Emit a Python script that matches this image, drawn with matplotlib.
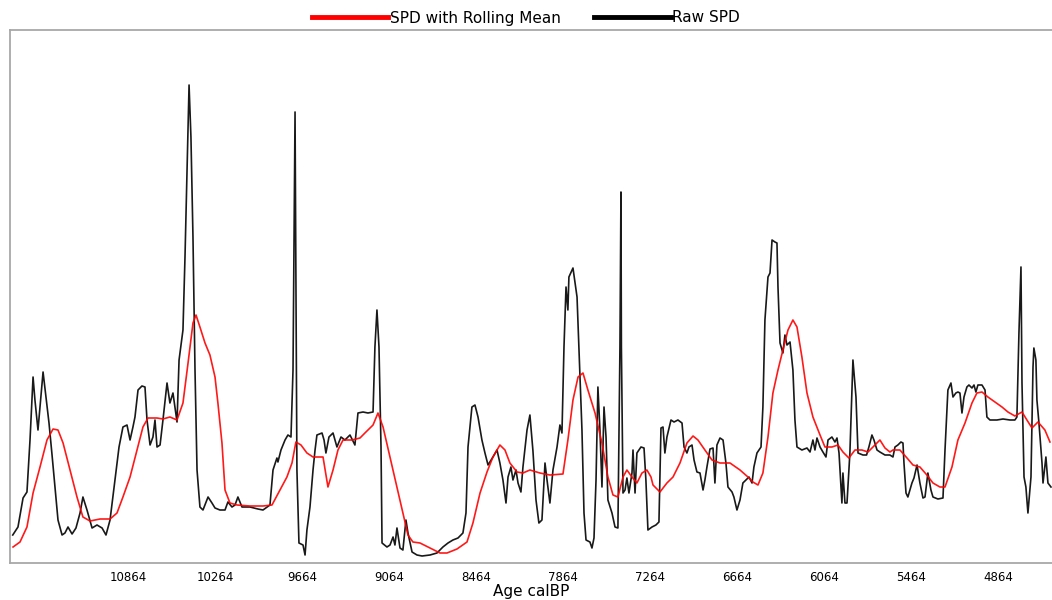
import numpy as np
import matplotlib
matplotlib.use("Agg")
import matplotlib.pyplot as plt

plt.rcParams['font.family'] = ['DejaVu Sans']

# raw SPD (arbitrary units, x 1e-5)
raw_age = [11659, 11623, 11588, 11561, 11540, 11519, 11506, 11485, 11450, 11423,
           11409, 11388, 11368, 11347, 11319, 11299, 11278, 11250, 11223, 11195,
           11175, 11147, 11112, 11078, 11043, 11016, 10988, 10954, 10926, 10899,
           10871, 10850, 10830, 10816, 10795, 10768, 10747, 10733, 10712, 10692,
           10678, 10664, 10643, 10623, 10595, 10575, 10554, 10526, 10512, 10485,
           10471, 10457, 10443, 10430, 10416, 10402, 10388, 10368, 10347, 10312,
           10285, 10264, 10230, 10195, 10175, 10147, 10126, 10106, 10078, 10023,
           9968, 9933, 9885, 9864, 9837, 9830, 9809, 9781, 9761, 9740,
           9726, 9719, 9712, 9706, 9699, 9685, 9657, 9643, 9630, 9609,
           9588, 9574, 9561, 9526, 9512, 9499, 9478, 9450, 9423, 9395,
           9368, 9333, 9299, 9278, 9243, 9209, 9174, 9161, 9147, 9133,
           9119, 9112, 9078, 9057, 9036, 9023, 9009, 8988, 8968, 8947,
           8933, 8905, 8871, 8836, 8781, 8733, 8692, 8657, 8623, 8588,
           8554, 8533, 8519, 8492, 8471, 8450, 8423, 8402, 8381, 8347,
           8319, 8299, 8278, 8257, 8243, 8223, 8209, 8188, 8174, 8154,
           8140, 8112, 8092, 8071, 8050, 8030, 8009, 7988, 7974, 7954,
           7933, 7905, 7885, 7871, 7857, 7843, 7830, 7823, 7795, 7767,
           7754, 7733, 7719, 7705, 7678, 7664, 7650, 7636, 7623, 7609,
           7595, 7581, 7567, 7554, 7526, 7505, 7485, 7471, 7464, 7461,
           7450, 7436, 7423, 7409, 7388, 7381, 7367, 7354, 7326, 7305,
           7292, 7278, 7250, 7223, 7202, 7188, 7174, 7161, 7147, 7119,
           7098, 7071, 7043, 7029, 7009, 6995, 6974, 6960, 6940, 6919,
           6898, 6885, 6871, 6850, 6829, 6816, 6802, 6781, 6760, 6740,
           6726, 6698, 6685, 6664, 6643, 6623, 6602, 6581, 6560, 6547,
           6526, 6498, 6485, 6471, 6450, 6436, 6422, 6402, 6388, 6381,
           6367, 6347, 6333, 6319, 6298, 6278, 6264, 6250, 6216, 6181,
           6160, 6140, 6126, 6112, 6091, 6071, 6050, 6036, 6009, 5988,
           5974, 5960, 5940, 5933, 5919, 5905, 5885, 5864, 5843, 5829,
           5795, 5770, 5754, 5733, 5719, 5698, 5678, 5643, 5609, 5588,
           5574, 5554, 5533, 5519, 5512, 5498, 5485, 5457, 5443, 5422,
           5402, 5381, 5367, 5347, 5326, 5312, 5278, 5243, 5229, 5209,
           5188, 5174, 5154, 5140, 5126, 5112, 5098, 5078, 5064, 5043,
           5029, 5016, 5002, 4974, 4953, 4940, 4919, 4871, 4829, 4781,
           4747, 4733, 4719, 4705, 4698, 4684, 4671, 4657, 4636, 4622,
           4616, 4602, 4595, 4581, 4560, 4553, 4533, 4519, 4498]
raw_spd = [28, 36, 65, 71, 123, 186, 163, 133, 191, 158,
           140, 108, 76, 43, 28, 30, 36, 29, 35, 50,
           66, 53, 35, 38, 35, 28, 43, 83, 116, 136,
           138, 123, 136, 146, 173, 177, 176, 143, 118, 126,
           143, 116, 118, 143, 180, 160, 170, 141, 203, 233,
           306, 393, 478, 426, 326, 193, 93, 56, 53, 66,
           60, 55, 53, 53, 61, 56, 58, 66, 56, 56,
           54, 53, 58, 93, 105, 101, 113, 123, 128, 126,
           193, 326, 451, 293, 93, 20, 18, 8, 33, 56,
           93, 113, 128, 130, 123, 110, 126, 130, 116, 126,
           123, 128, 118, 150, 151, 150, 151, 216, 253, 216,
           116, 20, 16, 18, 26, 18, 35, 15, 13, 43,
           30, 11, 8, 7, 8, 10, 16, 20, 23, 25,
           30, 50, 116, 156, 158, 146, 123, 110, 98, 106,
           113, 100, 83, 60, 86, 96, 83, 93, 80, 71,
           96, 133, 148, 112, 63, 40, 43, 100, 83, 60,
           93, 116, 138, 130, 216, 276, 253, 286, 295, 266,
           216, 133, 50, 23, 21, 15, 25, 83, 176, 133,
           76, 156, 126, 63, 50, 36, 35, 216, 371, 216,
           70, 73, 85, 70, 90, 113, 70, 110, 116, 115,
           83, 33, 36, 38, 41, 135, 136, 110, 126, 143,
           141, 143, 140, 116, 110, 116, 118, 103, 91, 90,
           73, 83, 96, 114, 115, 80, 118, 125, 123, 100,
           76, 71, 66, 53, 63, 80, 83, 86, 80, 96,
           110, 116, 156, 243, 286, 290, 323, 321, 320, 276,
           220, 210, 228, 218, 221, 193, 143, 116, 113, 115,
           111, 123, 113, 125, 116, 111, 106, 123, 126, 121,
           125, 110, 60, 90, 60, 60, 110, 203, 166, 110,
           108, 108, 116, 128, 123, 113, 111, 108, 108, 106,
           116, 118, 121, 120, 100, 70, 66, 80, 85, 98,
           80, 65, 66, 90, 73, 66, 64, 65, 113, 173,
           180, 166, 170, 171, 170, 150, 166, 176, 178, 175,
           178, 171, 178, 178, 173, 146, 143, 143, 144, 143,
           143, 146, 230, 296, 180, 86, 76, 50, 86, 196,
           215, 203, 163, 140, 100, 80, 106, 80, 76]

# rolling mean of the SPD
mean_age = [11657, 11609, 11561, 11519, 11471, 11423, 11381, 11347, 11312, 11264,
            11216, 11175, 11126, 11057, 10988, 10940, 10899, 10850, 10802, 10761,
            10726, 10664, 10623, 10575, 10526, 10485, 10450, 10416, 10395, 10368,
            10333, 10299, 10264, 10244, 10216, 10195, 10161, 10112, 10023, 9933,
            9871, 9816, 9768, 9733, 9706, 9671, 9630, 9588, 9519, 9485,
            9450, 9416, 9381, 9319, 9264, 9230, 9174, 9140, 9105, 9057,
            9009, 8968, 8933, 8899, 8850, 8781, 8712, 8664, 8595, 8526,
            8485, 8436, 8388, 8347, 8299, 8264, 8230, 8181, 8140, 8092,
            8023, 7954, 7864, 7830, 7795, 7760, 7726, 7692, 7643, 7595,
            7554, 7519, 7485, 7450, 7423, 7388, 7354, 7319, 7285, 7257,
            7243, 7195, 7147, 7105, 7057, 7009, 6967, 6933, 6885, 6836,
            6781, 6712, 6643, 6588, 6554, 6519, 6485, 6450, 6416, 6381,
            6347, 6312, 6278, 6250, 6216, 6181, 6140, 6091, 6057, 6009,
            5967, 5933, 5892, 5850, 5802, 5760, 5712, 5678, 5643, 5609,
            5588, 5540, 5491, 5450, 5402, 5354, 5312, 5264, 5229, 5181,
            5140, 5091, 5043, 5009, 4974, 4933, 4884, 4836, 4795, 4747,
            4698, 4664, 4629, 4588, 4540, 4505]
mean_spd = [16, 21, 36, 70, 96, 123, 134, 133, 120, 93,
            66, 46, 42, 44, 44, 50, 66, 86, 113, 136,
            145, 145, 144, 146, 143, 160, 200, 240, 248, 236,
            220, 208, 186, 160, 120, 73, 60, 58, 57, 57,
            58, 73, 86, 100, 121, 118, 110, 106, 106, 76,
            93, 113, 123, 123, 125, 130, 138, 150, 136, 106,
            76, 50, 28, 21, 20, 15, 10, 10, 14, 21,
            40, 70, 91, 106, 118, 113, 100, 91, 90, 93,
            90, 88, 89, 123, 163, 186, 190, 173, 150, 120,
            86, 68, 66, 86, 93, 86, 80, 90, 93, 86,
            78, 71, 80, 86, 100, 120, 127, 123, 113, 103,
            100, 100, 93, 86, 81, 78, 90, 126, 170, 193,
            213, 233, 243, 236, 206, 170, 146, 128, 116, 116,
            118, 111, 105, 113, 113, 111, 118, 123, 115, 111,
            113, 113, 105, 98, 96, 88, 80, 76, 76, 96,
            123, 140, 160, 170, 171, 166, 161, 156, 151, 147,
            151, 143, 135, 141, 133, 121]

tick_ages = [10864, 10264, 9664, 9064, 8464, 7864, 7264, 6664, 6064, 5464, 4864]

fig = plt.figure(figsize=(10.52, 6.0), dpi=100)
ax = fig.add_axes([10 / 1052, 37 / 600, 1 - 10 / 1052, 533 / 600])

raw_line, = ax.plot(raw_age, raw_spd, color='black', lw=1.2, alpha=0.9)
mean_line, = ax.plot(mean_age, mean_spd, color='red', lw=1.2, alpha=0.9)

ax.set_xlim(11678, 4491)
ax.set_ylim(0, 533)
ax.set_xticks(tick_ages)
ax.set_xticklabels([str(t) for t in tick_ages])
ax.set_yticks([])
ax.tick_params(axis='x', length=0, labelsize=8.5, pad=6)
ax.set_xlabel('Age calBP', fontsize=11, labelpad=0)

for side in ['left', 'top', 'bottom']:
    ax.spines[side].set_color('#a8a8a8')
    ax.spines[side].set_linewidth(1.3)
ax.spines['right'].set_visible(False)

leg = fig.legend([mean_line, raw_line], ['SPD with Rolling Mean', 'Raw SPD'],
                 loc='center', bbox_to_anchor=(0.5, 0.97), ncol=2, frameon=False,
                 fontsize=11, handlelength=5, handletextpad=0.1, columnspacing=2.2)
for h in leg.legend_handles:
    h.set_linewidth(3.5)
    h.set_alpha(1)

fig.savefig('out.png', dpi=100)
